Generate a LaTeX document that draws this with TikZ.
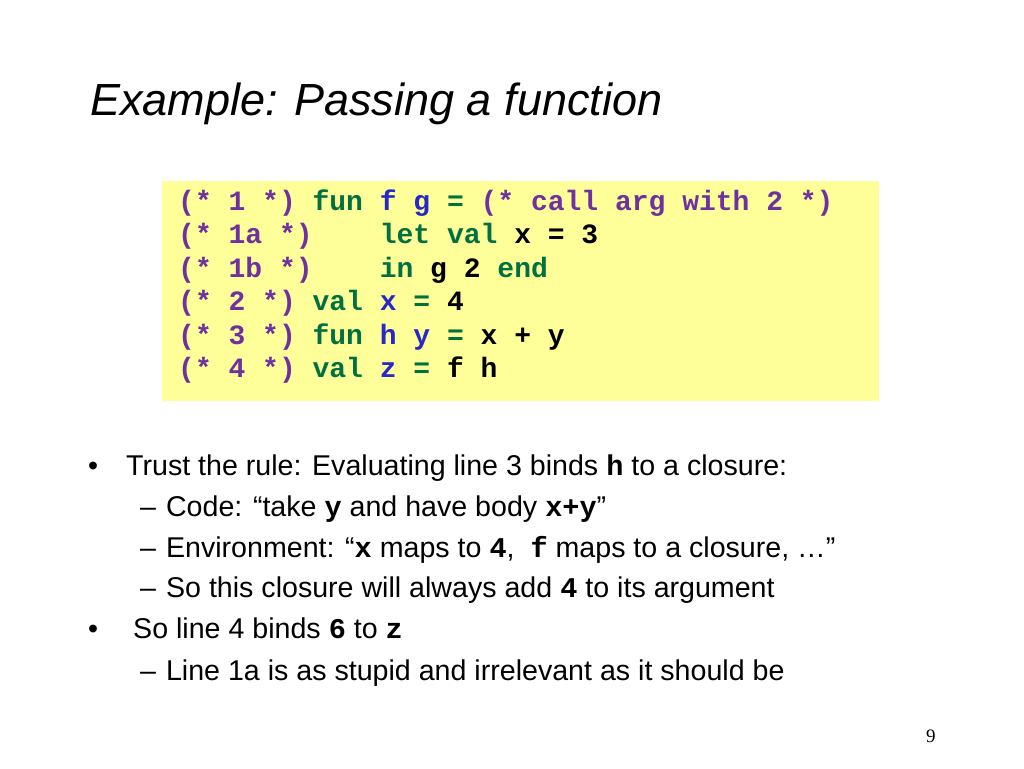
\documentclass[tikz,border=0pt]{standalone}
\usepackage{fontspec}
\setmainfont{Liberation Sans}
\setmonofont{Liberation Mono}
\newfontfamily\pagefont{Liberation Serif}
\definecolor{cmt}{RGB}{112,48,160}
\definecolor{kw}{RGB}{0,112,64}
\definecolor{idn}{RGB}{40,40,200}
\definecolor{codebg}{RGB}{255,255,153}
\newcommand{\cm}[1]{\textcolor{cmt}{#1}}
\newcommand{\kw}[1]{\textcolor{kw}{#1}}
\newcommand{\id}[1]{\textcolor{idn}{#1}}
\newcommand{\tc}[1]{{\ttfamily\bfseries #1}}
\tikzset{
  codeline/.style={anchor=base west, inner sep=0pt, font=\fontsize{28}{28}\selectfont\ttfamily\bfseries},
  bodyline/.style={anchor=base west, inner sep=0pt, font=\fontsize{28.6}{28.6}\selectfont},
}
\begin{document}
\begin{tikzpicture}[x=1pt,y=-1pt]
  \useasboundingbox (0,0) rectangle (1024,768);
  % Title
  \node[anchor=base west, inner sep=0pt, font=\fontsize{45}{45}\selectfont\itshape] (title) at (90,115) {Example: Passing a function};

  % Code box
  \fill[codebg] (162,181) rectangle (879,401);
  \node[codeline] (c1) at (178,210) {\cm{(* 1 *)} \kw{fun} \id{f g} \kw{=} \cm{(* call arg with 2 *)}};
  \node[codeline] (c2) at (178,243.5) {\cm{(* 1a *)}\ \ \ \ \kw{let val} x = 3};
  \node[codeline] (c3) at (178,277) {\cm{(* 1b *)}\ \ \ \ \kw{in} g 2 \kw{end}};
  \node[codeline] (c4) at (178,310.5) {\cm{(* 2 *)} \kw{val} \id{x} \kw{=} 4};
  \node[codeline] (c5) at (178,344) {\cm{(* 3 *)} \kw{fun} \id{h y} \kw{=} x + y};
  \node[codeline] (c6) at (178,377.5) {\cm{(* 4 *)} \kw{val} \id{z} \kw{=} f h};

  % Bullets
  \node[bodyline] (b1) at (88,475) {•};
  \node[bodyline] (t1) at (126,475) {Trust the rule: Evaluating line 3 binds \tc{h} to a closure:};
  \node[bodyline] (d1) at (140,516) {–\hspace{10pt}Code: “take \tc{y} and have body \tc{x+y}”};
  \node[bodyline] (d2) at (140,557) {–\hspace{10pt}Environment: “\tc{x} maps to \tc{4}, \ \tc{f} maps to a closure, …”};
  \node[bodyline] (d3) at (140,597) {–\hspace{10pt}So this closure will always add \tc{4} to its argument};
  \node[bodyline] (b2) at (88,638) {•};
  \node[bodyline] (t2) at (133,638) {So line 4 binds \tc{6} to \tc{z}};
  \node[bodyline] (d4) at (140,680) {–\hspace{10pt}Line 1a is as stupid and irrelevant as it should be};

  % Page number
  \node[anchor=base west, inner sep=0pt, font=\fontsize{19}{19}\selectfont\pagefont] (page) at (926,742) {9};
\end{tikzpicture}
\end{document}
